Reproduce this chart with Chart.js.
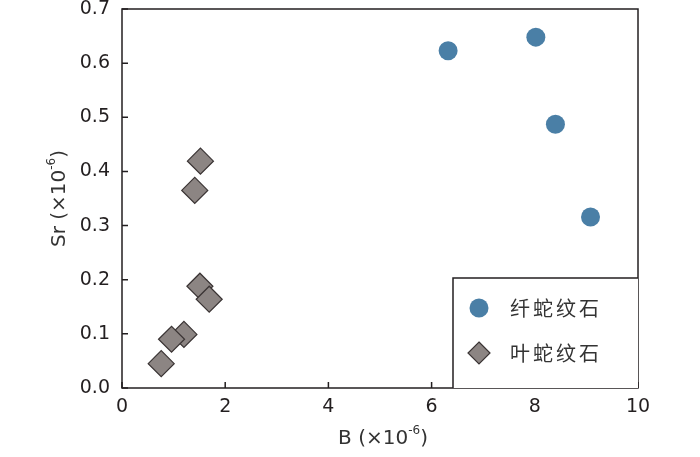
<!DOCTYPE html>
<html>
<head>
<meta charset="utf-8">
<script src="https://cdn.jsdelivr.net/npm/chart.js@4"></script>
<style>
  html, body { margin: 0; padding: 0; background: #fff; }
  #wrap { width: 700px; height: 457px; }
</style>
</head>
<body>
<div id="wrap"><canvas id="chart"></canvas></div>
<script>
// data
const seriesNames = ['纤蛇纹石', '叶蛇纹石'];
const chrysotileB = [6.32, 8.02, 8.40, 9.08];
const chrysotileSr = [0.623, 0.648, 0.487, 0.316];
const lizarditeB = [1.52, 1.41, 1.51, 1.69, 1.20, 0.96, 0.76];
const lizarditeSr = [0.419, 0.365, 0.188, 0.164, 0.099, 0.090, 0.045];
const xTicks = [0, 2, 4, 6, 8, 10];
const yTicks = [0.0, 0.1, 0.2, 0.3, 0.4, 0.5, 0.6, 0.7];

const ink = '#231f20';
const font = '"DejaVu Sans", sans-serif';

const toPoints = (xs, ys) => xs.map((x, i) => ({ x, y: ys[i] }));

// frame, inward ticks, axis titles and boxed legend
const framePlugin = {
    id: 'frame',
    afterDraw(chart) {
        const { ctx, chartArea: a, scales } = chart;
        ctx.save();
        ctx.strokeStyle = ink;
        ctx.lineWidth = 1.5;
        ctx.strokeRect(a.left, a.top, a.right - a.left, a.bottom - a.top);

        ctx.beginPath();
        xTicks.forEach(v => {
            const px = scales.x.getPixelForValue(v);
            ctx.moveTo(px, a.bottom);
            ctx.lineTo(px, a.bottom - 6);
        });
        yTicks.forEach(v => {
            const py = scales.y.getPixelForValue(v);
            ctx.moveTo(a.left, py);
            ctx.lineTo(a.left + 6, py);
        });
        ctx.stroke();

        // axis titles with superscript exponent
        function titleText(base, cx, cy) {
            ctx.font = '20px ' + font;
            const w1 = ctx.measureText(base).width;
            ctx.font = '12px ' + font;
            const w2 = ctx.measureText('-6').width;
            ctx.font = '20px ' + font;
            const w3 = ctx.measureText(')').width;
            let x0 = cx - (w1 + w2 + w3) / 2;
            ctx.fillStyle = '#333';
            ctx.textBaseline = 'middle';
            ctx.textAlign = 'left';
            ctx.fillText(base, x0, cy);
            ctx.font = '12px ' + font;
            ctx.fillText('-6', x0 + w1, cy - 8);
            ctx.font = '20px ' + font;
            ctx.fillText(')', x0 + w1 + w2, cy);
        }
        titleText('B (×10', (a.left + a.right) / 2 + 3, 439);
        ctx.save();
        ctx.translate(60, (a.top + a.bottom) / 2);
        ctx.rotate(-Math.PI / 2);
        titleText('Sr (×10', 0, 0);
        ctx.restore();

        // legend box
        const lx = 453, ly = 278;
        ctx.fillStyle = '#fff';
        ctx.fillRect(lx, ly, a.right - lx, a.bottom - ly);
        ctx.strokeStyle = ink;
        ctx.lineWidth = 1.5;
        ctx.beginPath();
        ctx.moveTo(lx, a.bottom);
        ctx.lineTo(lx, ly);
        ctx.lineTo(a.right, ly);
        ctx.stroke();

        chart.data.datasets.forEach((ds, i) => {
            const cy = i === 0 ? 308 : 353;
            ctx.fillStyle = ds.backgroundColor;
            ctx.strokeStyle = ds.borderColor;
            ctx.lineWidth = ds.borderWidth;
            ctx.beginPath();
            if (ds.pointStyle === 'circle') {
                ctx.arc(479, cy, 9.5, 0, Math.PI * 2);
            } else {
                const r = 11;
                ctx.moveTo(479, cy - r);
                ctx.lineTo(479 + r, cy);
                ctx.lineTo(479, cy + r);
                ctx.lineTo(479 - r, cy);
                ctx.closePath();
            }
            ctx.fill();
            if (ds.borderWidth) ctx.stroke();

            ctx.fillStyle = '#333';
            ctx.font = '20px "Noto Sans CJK SC", sans-serif';
            ctx.textAlign = 'left';
            ctx.textBaseline = 'middle';
            let tx = 510;
            for (const ch of ds.label) {
                ctx.fillText(ch, tx, cy);
                tx += 23;
            }
        });
        ctx.restore();
    }
};

new Chart(document.getElementById('chart'), {
    type: 'scatter',
    data: {
        datasets: [
            {
                label: seriesNames[0],
                data: toPoints(chrysotileB, chrysotileSr),
                pointStyle: 'circle',
                pointRadius: 9.5,
                pointHoverRadius: 9.5,
                backgroundColor: '#4a7fa6',
                borderColor: '#4a7fa6',
                borderWidth: 0,
            },
            {
                label: seriesNames[1],
                data: toPoints(lizarditeB, lizarditeSr),
                pointStyle: 'rectRot',
                pointRadius: 13,
                pointHoverRadius: 13,
                backgroundColor: '#8c8583',
                borderColor: '#3a3434',
                borderWidth: 1.2,
            },
        ],
    },
    options: {
        responsive: true,
        maintainAspectRatio: false,
        animation: false,
        events: [],
        layout: { autoPadding: false, padding: { top: 9, right: 62, left: 0, bottom: 0 } },
        plugins: { legend: { display: false }, tooltip: { enabled: false } },
        scales: {
            x: {
                type: 'linear',
                min: 0,
                max: 10,
                afterFit: s => { s.height = 69; s.paddingLeft = 0; s.paddingRight = 0; },
                afterBuildTicks: s => { s.ticks = xTicks.map(v => ({ value: v })); },
                ticks: { color: ink, font: { size: 19, family: font }, padding: 8 },
                grid: { display: false, drawTicks: false },
                border: { display: false },
            },
            y: {
                type: 'linear',
                min: 0,
                max: 0.7,
                afterFit: s => { s.width = 122; s.paddingTop = 0; s.paddingBottom = 0; },
                afterBuildTicks: s => { s.ticks = yTicks.map(v => ({ value: v })); },
                ticks: {
                    color: ink,
                    font: { size: 19, family: font },
                    padding: 12,
                    callback: v => v.toFixed(1),
                },
                grid: { display: false, drawTicks: false },
                border: { display: false },
            },
        },
    },
    plugins: [framePlugin],
});
</script>
</body>
</html>
